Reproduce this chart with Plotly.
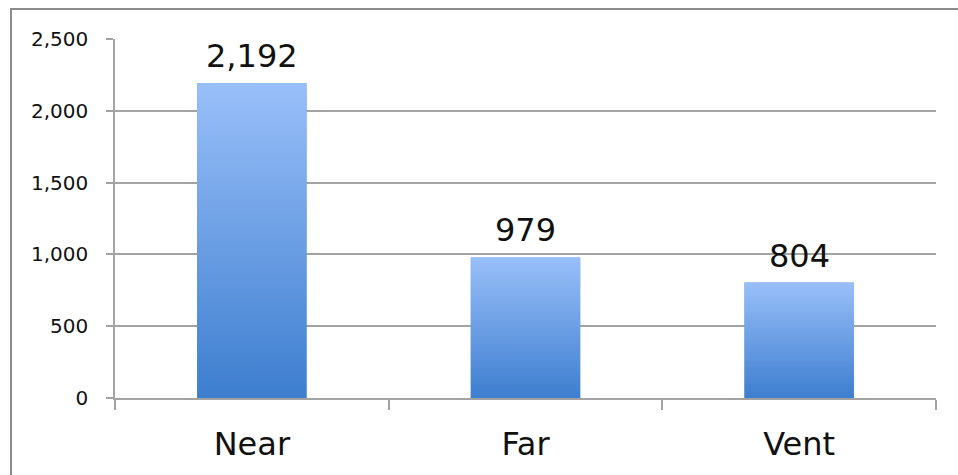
import plotly.graph_objects as go

categories = ["Near", "Far", "Vent"]
counts = [2192, 979, 804]
y_tickvals = [0, 500, 1000, 1500, 2000, 2500]
y_ticktext = ["0", "500", "1,000", "1,500", "2,000", "2,500"]

W, H = 958, 475
ML, MR, MT, MB = 115, 22, 39, 77
BAR_W = 0.4
FONT = "DejaVu Sans"
GRID = "#a3a3a3"

fig = go.Figure()

# base bars on the category axis
fig.add_trace(go.Bar(
    x=categories, y=counts, width=BAR_W,
    marker=dict(color="#6a9ee6", line=dict(width=0)),
    hoverinfo="x+y", showlegend=False,
))

# vertical gradient overlay for each bar, drawn on a hidden numeric axis
for i, v in enumerate(counts):
    x0, x1 = i - BAR_W / 2, i + BAR_W / 2
    fig.add_trace(go.Scatter(
        x=[x0, x1, x1, x0, x0], y=[0, 0, v, v, 0],
        xaxis="x2", mode="lines", line=dict(width=0),
        fill="toself",
        fillgradient=dict(type="vertical",
                          colorscale=[[0, "#3d7ecf"], [1, "#99bff9"]]),
        hoverinfo="skip", showlegend=False,
    ))

# value labels above the bars
for c, v in zip(categories, counts):
    fig.add_annotation(
        x=c, y=v, text=f"{v:,}", showarrow=False,
        yanchor="bottom", yshift=6,
        font=dict(family=FONT, size=32, color="#111111"),
    )

# outer frame around the chart
pw, ph = W - ML - MR, H - MT - MB
fig.add_shape(
    type="rect", xref="paper", yref="paper", layer="above",
    x0=(11 - ML) / pw, x1=(W + 20 - ML) / pw,
    y0=-(H + 20 - MT - ph) / ph, y1=(ph + MT - 9) / ph,
    line=dict(color="#8c8c8c", width=2),
)

fig.update_layout(
    width=W, height=H,
    margin=dict(l=ML, r=MR, t=MT, b=MB),
    paper_bgcolor="white", plot_bgcolor="white",
    showlegend=False,
    bargap=0.6,
    xaxis=dict(
        type="category", categoryorder="array", categoryarray=categories,
        range=[-0.5, 2.5], tickson="boundaries",
        ticks="outside", ticklen=10, tickcolor=GRID, tickwidth=1.5,
        showline=True, linecolor=GRID, linewidth=1.5,
        showgrid=False, zeroline=False,
        tickfont=dict(family=FONT, size=32, color="#111111"),
        ticklabelstandoff=17,
    ),
    xaxis2=dict(
        overlaying="x", range=[-0.5, 2.5], visible=False,
    ),
    yaxis=dict(
        range=[0, 2500], tickvals=y_tickvals, ticktext=y_ticktext,
        ticks="outside", ticklen=7, tickcolor=GRID, tickwidth=1.5,
        showline=True, linecolor=GRID, linewidth=1.5,
        showgrid=True, gridcolor=GRID, gridwidth=1.5,
        zeroline=False,
        tickfont=dict(family=FONT, size=20, color="#111111"),
        ticklabelstandoff=14,
    ),
)

fig.write_html("out.html")
